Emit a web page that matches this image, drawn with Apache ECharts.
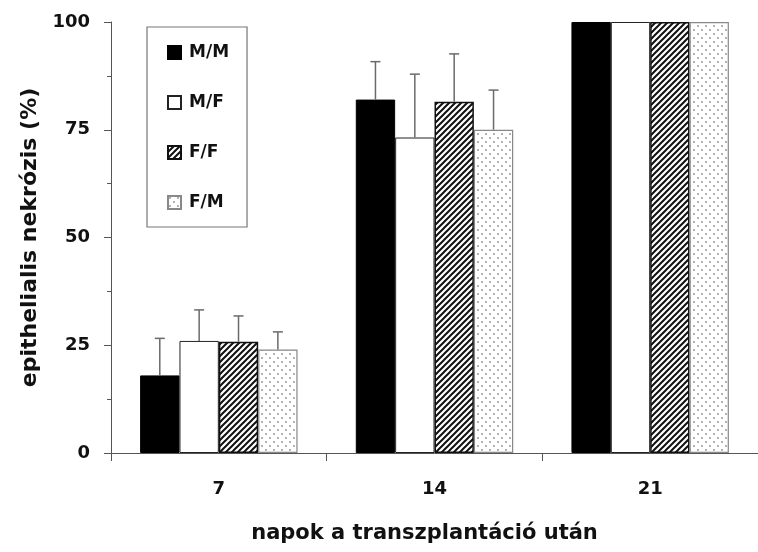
<!DOCTYPE html>
<html>
<head>
<meta charset="utf-8">
<script src="https://cdn.jsdelivr.net/npm/echarts@6/dist/echarts.min.js"></script>
<style>
  html, body { margin: 0; padding: 0; background: #fff; }
  #chart { width: 758px; height: 552px; }
</style>
</head>
<body>
<div id="chart"></div>
<script>
// Days after transplantation (x categories)
const days = ['7', '14', '21'];
// Group names (donor/recipient sex)
const groupNames = ['M/M', 'M/F', 'F/F', 'F/M'];
// Mean epithelial necrosis (%) per group
const meanMM = [18, 82, 100];
const meanMF = [26, 73.2, 100];
const meanFF = [25.8, 81.5, 100];
const meanFM = [24, 75, 100];
// Standard deviation (upper error bar) per group
const sdMM = [8.6, 8.8, 0];
const sdMF = [7.2, 14.7, 0];
const sdFF = [6.0, 11.1, 0];
const sdFM = [4.1, 9.2, 0];
// Y axis ticks
const yTicks = [0, 25, 50, 75, 100];

const FONT = '"DejaVu Sans", sans-serif';
const CAT_GAP = 0.27;

function hatchPattern() {
  const c = document.createElement('canvas');
  c.width = 6; c.height = 6;
  const g = c.getContext('2d');
  g.fillStyle = '#fff';
  g.fillRect(0, 0, 6, 6);
  g.strokeStyle = '#111';
  g.lineWidth = 2.0;
  g.beginPath();
  g.moveTo(-1, 7); g.lineTo(7, -1);
  g.moveTo(-1, 1); g.lineTo(1, -1);
  g.moveTo(5, 7); g.lineTo(7, 5);
  g.stroke();
  return c;
}

function dotPattern() {
  const c = document.createElement('canvas');
  c.width = 8; c.height = 8;
  const g = c.getContext('2d');
  g.fillStyle = '#fff';
  g.fillRect(0, 0, 8, 8);
  g.fillStyle = '#9a9a9a';
  [[2, 2], [6, 6]].forEach(function (p) {
    g.beginPath();
    g.arc(p[0], p[1], 1.0, 0, Math.PI * 2);
    g.fill();
  });
  return c;
}

const styles = [
  { color: '#000', borderColor: '#000', borderWidth: 1 },
  { color: '#fff', borderColor: '#222', borderWidth: 1 },
  { color: { image: hatchPattern(), repeat: 'repeat' }, borderColor: '#111', borderWidth: 1.5 },
  { color: { image: dotPattern(), repeat: 'repeat' }, borderColor: '#888', borderWidth: 1.2 }
];

const means = [meanMM, meanMF, meanFF, meanFM];
const sds = [sdMM, sdMF, sdFF, sdFM];

const barSeries = groupNames.map(function (name, i) {
  return {
    name: name,
    type: 'bar',
    data: means[i],
    barGap: '0%',
    barCategoryGap: (CAT_GAP * 100) + '%',
    itemStyle: styles[i],
    z: 2
  };
});

// error bar items: [categoryIndex, groupIndex, mean, sd]
const errData = [];
means.forEach(function (m, gi) {
  m.forEach(function (v, ci) {
    if (sds[gi][ci] > 0) errData.push([ci, gi, v, sds[gi][ci]]);
  });
});

const errorSeries = {
  type: 'custom',
  name: 'sd',
  data: errData,
  encode: { x: 0, y: 2 },
  z: 3,
  silent: true,
  renderItem: function (params, api) {
    const ci = api.value(0), gi = api.value(1);
    const mean = api.value(2), sd = api.value(3);
    const center = api.coord([ci, 0])[0];
    const band = api.size([1, 0])[0];
    const barW = band * (1 - CAT_GAP) / 4;
    const x = center + (gi - 1.5) * barW;
    const y0 = api.coord([ci, mean])[1];
    const y1 = api.coord([ci, mean + sd])[1];
    const st = { stroke: '#6a6a6a', lineWidth: 1.5 };
    return {
      type: 'group',
      children: [
        { type: 'line', shape: { x1: x, y1: y0, x2: x, y2: y1 }, style: st },
        { type: 'line', shape: { x1: x - 5, y1: y1, x2: x + 5, y2: y1 }, style: st }
      ]
    };
  }
};

const chart = echarts.init(document.getElementById('chart'), null, { renderer: 'canvas' });
chart.setOption({
  backgroundColor: '#fff',
  animation: false,
  grid: { left: 111, right: -3, top: 22, bottom: 99, containLabel: false },
  legend: {
    data: groupNames,
    orient: 'vertical',
    left: 147,
    top: 27,
    padding: [17, 18, 16, 20],
    itemGap: 33,
    itemWidth: 13,
    itemHeight: 13,
    icon: 'rect',
    borderColor: '#777',
    borderWidth: 1.2,
    selectedMode: false,
    textStyle: { fontFamily: FONT, fontWeight: 'bold', fontSize: 17, color: '#111', padding: [0, 0, 0, 3] }
  },
  xAxis: {
    type: 'category',
    data: days,
    name: 'napok a transzplantáció után',
    nameLocation: 'middle',
    nameGap: 70,
    nameTextStyle: { fontFamily: FONT, fontWeight: 'bold', fontSize: 21, color: '#111', padding: [0, 20, 0, 0] },
    axisLine: { lineStyle: { color: '#555', width: 1 } },
    axisTick: { show: true, length: 8, lineStyle: { color: '#555' } },
    axisLabel: { fontFamily: FONT, fontWeight: 'bold', fontSize: 18, color: '#111', margin: 27 },
    splitLine: { show: false }
  },
  yAxis: {
    type: 'value',
    min: yTicks[0],
    max: yTicks[yTicks.length - 1],
    interval: 25,
    name: 'epithelialis nekrózis (%)',
    nameLocation: 'middle',
    nameRotate: 90,
    nameGap: 70,
    nameTextStyle: { fontFamily: FONT, fontWeight: 'bold', fontSize: 22, color: '#111' },
    axisLine: { show: true, lineStyle: { color: '#555', width: 1 } },
    axisTick: { show: true, length: 7, lineStyle: { color: '#555' } },
    minorTick: { show: true, splitNumber: 2, length: 4, lineStyle: { color: '#555' } },
    axisLabel: { fontFamily: FONT, fontWeight: 'bold', fontSize: 18, color: '#111', margin: 21 },
    splitLine: { show: false }
  },
  series: barSeries.concat([errorSeries])
});
</script>
</body>
</html>
